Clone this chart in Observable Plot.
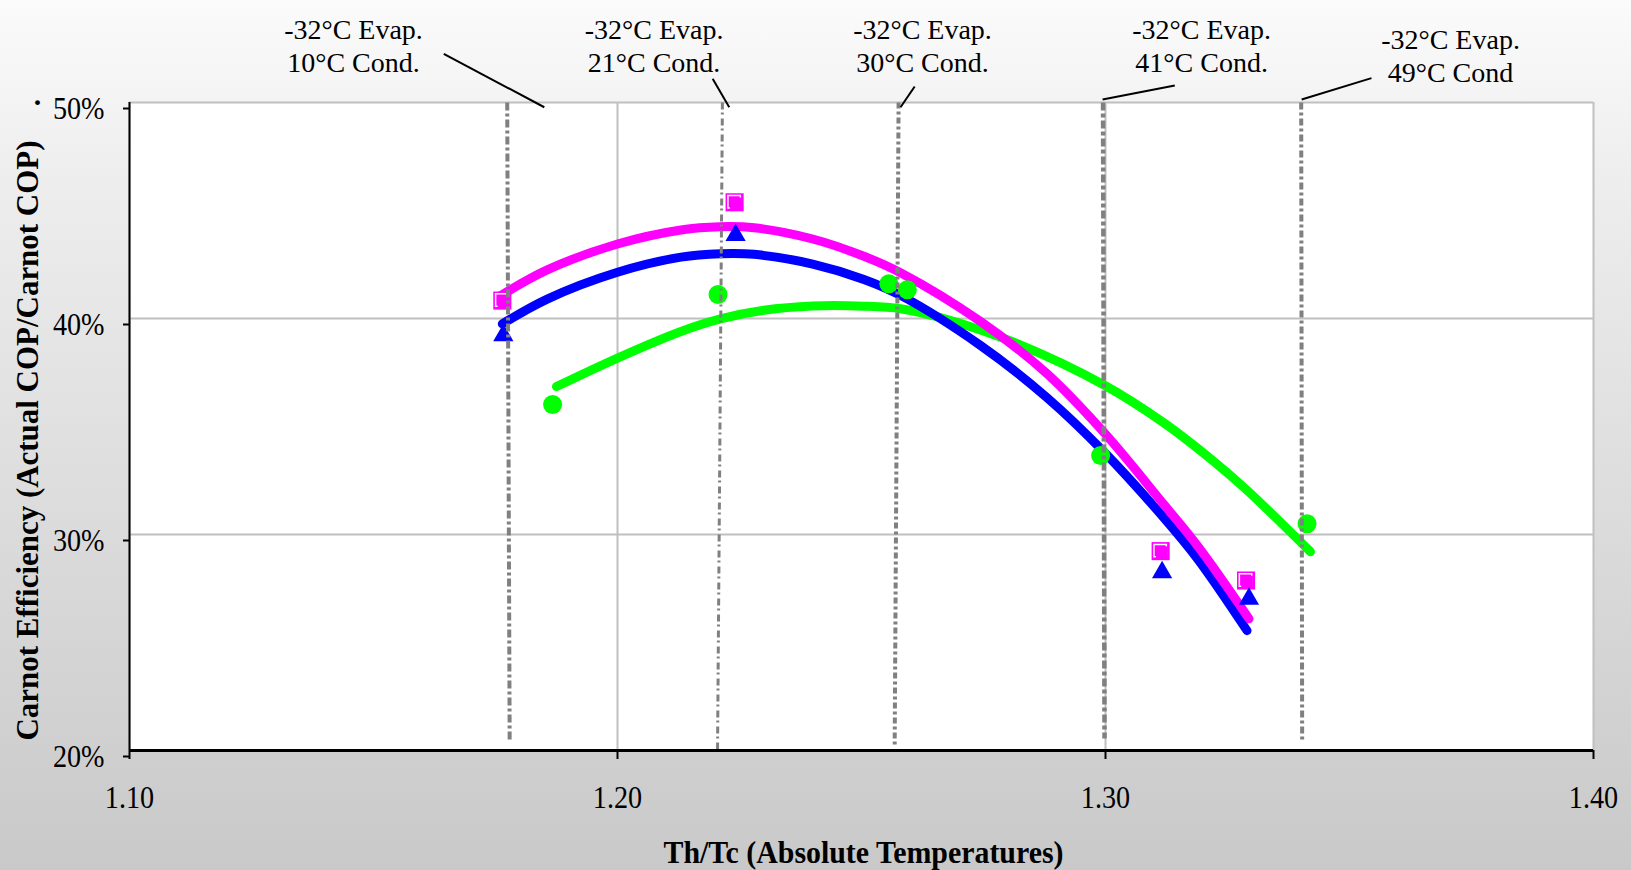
<!DOCTYPE html>
<html>
<head>
<meta charset="utf-8">
<script src="https://cdn.jsdelivr.net/npm/d3@7"></script>
<script src="https://cdn.jsdelivr.net/npm/@observablehq/plot@0.6"></script>
<style>
  html, body { margin: 0; padding: 0; background: #ddd; }
  #chart { width: 1631px; height: 870px; }
</style>
</head>
<body>
<div id="chart"></div>
<script>
// ---- axis ticks ----
const xTicks = [1.10, 1.20, 1.30, 1.40];
const yTicks = [20, 30, 40, 50];

// ---- measured points ----
const squareX = [1.1764, 1.2240, 1.3113, 1.3288];
const squareY = [40.83, 45.38, 29.23, 27.87];
const triangleX = [1.1766, 1.2242, 1.3116, 1.3294];
const triangleY = [39.22, 43.86, 28.25, 27.02];
const circleX = [1.1867, 1.2206, 1.2556, 1.2594, 1.2990, 1.3413];
const circleY = [36.02, 41.11, 41.61, 41.33, 33.66, 30.50];

// ---- trend curves ----
const pinkCurveX = [1.1760, 1.1856, 1.2000, 1.2130, 1.2210, 1.2280, 1.2400, 1.2505, 1.2580, 1.2744, 1.2880, 1.2997, 1.3120, 1.3190, 1.3294];
const pinkCurveY = [41.05, 42.25, 43.45, 44.10, 44.25, 44.20, 43.68, 42.88, 42.12, 39.86, 37.45, 34.72, 31.38, 29.43, 26.10];
const blueCurveX = [1.1764, 1.1856, 1.2000, 1.2130, 1.2211, 1.2280, 1.2400, 1.2505, 1.2580, 1.2744, 1.2880, 1.2997, 1.3120, 1.3190, 1.3290];
const blueCurveY = [39.75, 40.90, 42.14, 42.84, 43.00, 42.97, 42.52, 41.81, 41.07, 38.75, 36.34, 33.82, 30.76, 28.83, 25.55];
const greenCurveX = [1.1875, 1.2000, 1.2130, 1.2211, 1.2300, 1.2400, 1.2505, 1.2580, 1.2676, 1.2812, 1.2997, 1.3120, 1.3222, 1.3290, 1.3420];
const greenCurveY = [36.85, 38.17, 39.40, 39.98, 40.38, 40.58, 40.57, 40.45, 39.95, 38.90, 36.92, 35.16, 33.38, 32.05, 29.20];

// ---- operating conditions (vertical reference lines) ----
const condTopX = [1.1774, 1.2215, 1.2576, 1.2995, 1.3401];
const condBottomX = [1.1779, 1.2205, 1.2568, 1.2998, 1.3403];
const condBottomY = [20.51, 20.0, 20.28, 20.56, 20.39];
const evapLabel = "-32\u00B0C Evap.";
const condLabels = ["10\u00B0C Cond.", "21\u00B0C Cond.", "30\u00B0C Cond.", "41\u00B0C Cond.", "49\u00B0C Cond"];

// ---- annotation layout (data units) ----
const annX = [1.1459, 1.2075, 1.2625, 1.3197, 1.3707];
const annY1 = [52.94, 52.94, 52.94, 52.94, 52.48];
const annY2 = [51.41, 51.41, 51.41, 51.41, 50.94];
const leaderX1 = [1.1644, 1.2195, 1.2609, 1.3142, 1.3545];
const leaderY1 = [52.25, 51.10, 50.74, 50.79, 51.13];
const leaderX2 = [1.1850, 1.2229, 1.2580, 1.2994, 1.3402];
const leaderY2 = [49.78, 49.78, 49.78, 50.14, 50.14];
const condWidths = [4, 3, 4, 4.5, 4];
const condDash = ["8,3,3,3", "7,3,2,4", "6,3,3,3", "8,3,4,3", "7,3,3,3"];

const toPts = (xs, ys) => xs.map((x, i) => ({x, y: ys[i]}));
const squares = toPts(squareX, squareY);
const triangles = toPts(triangleX, triangleY);
const circles = toPts(circleX, circleY);
const curves = [
  ...toPts(greenCurveX, greenCurveY).map(d => ({...d, s: "green"})),
  ...toPts(blueCurveX, blueCurveY).map(d => ({...d, s: "blue"})),
  ...toPts(pinkCurveX, pinkCurveY).map(d => ({...d, s: "pink"}))
];
const conds = condTopX.map((x, i) => ({x1: x, x2: condBottomX[i], y1: 50, y2: condBottomY[i], w: condWidths[i], dash: condDash[i]}));
const anns = annX.map((x, i) => ({x, y1: annY1[i], y2: annY2[i], cond: condLabels[i]}));
const leaders = leaderX1.map((x, i) => ({x1: x, y1: leaderY1[i], x2: leaderX2[i], y2: leaderY2[i]}));
const colors = {green: "#00ff00", blue: "#0000ff", pink: "#ff00ff"};

const font = "Liberation Serif, Times New Roman, serif";

const plot = Plot.plot({
  width: 1631,
  height: 870,
  marginLeft: 129,
  marginRight: 38,
  marginTop: 102,
  marginBottom: 120,
  style: {
    background: "linear-gradient(to bottom, #fbfbfb 0%, #eeeeee 20%, #c9c9c9 100%)",
    fontFamily: font,
    color: "black"
  },
  x: {domain: [1.10, 1.40]},
  y: {domain: [20, 50]},
  marks: [
    Plot.frame({fill: "white", stroke: null}),
    Plot.gridX(xTicks, {stroke: "#c0c0c0", strokeOpacity: 1, strokeWidth: 2}),
    Plot.gridY(yTicks, {stroke: "#c0c0c0", strokeOpacity: 1, strokeWidth: 2}),
    ...["green", "blue", "pink"].map(s => Plot.line(curves.filter(d => d.s === s), {
      x: "x", y: "y", stroke: colors[s], strokeWidth: 9, curve: "catmull-rom",
      strokeLinecap: "round", strokeLinejoin: "round"
    })),
    Plot.dot(circles, {x: "x", y: "y", r: 9.5, fill: "#00ff00", stroke: null}),
    Plot.dot(squares, {x: "x", y: "y", symbol: "square", r: 10.2, fill: "#ff00ff", stroke: null}),
    Plot.dot(squares, {x: "x", y: "y", symbol: "square", r: 7, fill: "none", stroke: "white", strokeWidth: 1.5, dx: -0.5, dy: -0.5}),
    Plot.dot(squares, {x: "x", y: "y", symbol: "square", r: 6.6, fill: "#ff00ff", stroke: null, dx: 1, dy: 1}),
    Plot.dot(triangles, {x: "x", y: "y", symbol: "triangle", r: 7.5, fill: "#0000ff", stroke: null}),
    ...conds.map(c => Plot.link([c], {x1: "x1", x2: "x2", y1: "y1", y2: "y2", stroke: "#808080", strokeWidth: c.w, strokeDasharray: c.dash})),
    Plot.link(leaders, {x1: "x1", y1: "y1", x2: "x2", y2: "y2", stroke: "black", strokeWidth: 2}),
    Plot.text(anns, {x: "x", y: "y1", text: () => evapLabel, fontSize: 28, lineAnchor: "bottom", textAnchor: "middle", fill: "black"}),
    Plot.text(anns, {x: "x", y: "y2", text: "cond", fontSize: 28, lineAnchor: "bottom", textAnchor: "middle", fill: "black"}),
    Plot.ruleY([20], {stroke: "black", strokeWidth: 3}),
    Plot.ruleX([1.10], {stroke: "black", strokeWidth: 2}),
    Plot.axisX({ticks: xTicks, tickFormat: d => d.toFixed(2), tickSize: 9, tickPadding: 26, fontSize: 32, label: null, stroke: "black", strokeWidth: 2}),
    Plot.axisY({ticks: yTicks, tickFormat: d => d + "%", tickSize: 6, tickPadding: 19, fontSize: 32, dy: 6, label: null, stroke: "black", strokeWidth: 2}),
    Plot.text(["\u00B7"], {frameAnchor: "top-left", dx: -92, dy: 0, fontSize: 30, fontWeight: "bold", lineAnchor: "middle", textAnchor: "middle", fill: "black"}),
    Plot.text(["Carnot Efficiency (Actual COP/Carnot COP)"], {frameAnchor: "left", dx: -101, dy: 14, rotate: -90, fontSize: 31, fontWeight: "bold", textAnchor: "middle", lineAnchor: "middle", fill: "black"}),
    Plot.text(["Th/Tc (Absolute Temperatures)"], {frameAnchor: "bottom", dx: 2, dy: 112, fontSize: 32, fontWeight: "bold", textAnchor: "middle", lineAnchor: "bottom", fill: "black"})
  ]
});

document.getElementById("chart").appendChild(plot);

// narrow the tall serif glyphs as in the original rendering
const sel = d3.select(plot);
sel.selectAll('g[aria-label="x-axis tick label"] text, g[aria-label="y-axis tick label"] text')
  .each(function() {
    const len = this.getComputedTextLength();
    d3.select(this).attr("textLength", len * 0.88).attr("lengthAdjust", "spacingAndGlyphs");
  });
sel.selectAll("text")
  .filter(function() { return this.textContent.startsWith("Carnot"); })
  .attr("textLength", 600)
  .attr("lengthAdjust", "spacingAndGlyphs");
sel.selectAll("text")
  .filter(function() { return this.textContent.startsWith("Th/Tc"); })
  .attr("textLength", 400)
  .attr("lengthAdjust", "spacingAndGlyphs");
</script>
</body>
</html>
